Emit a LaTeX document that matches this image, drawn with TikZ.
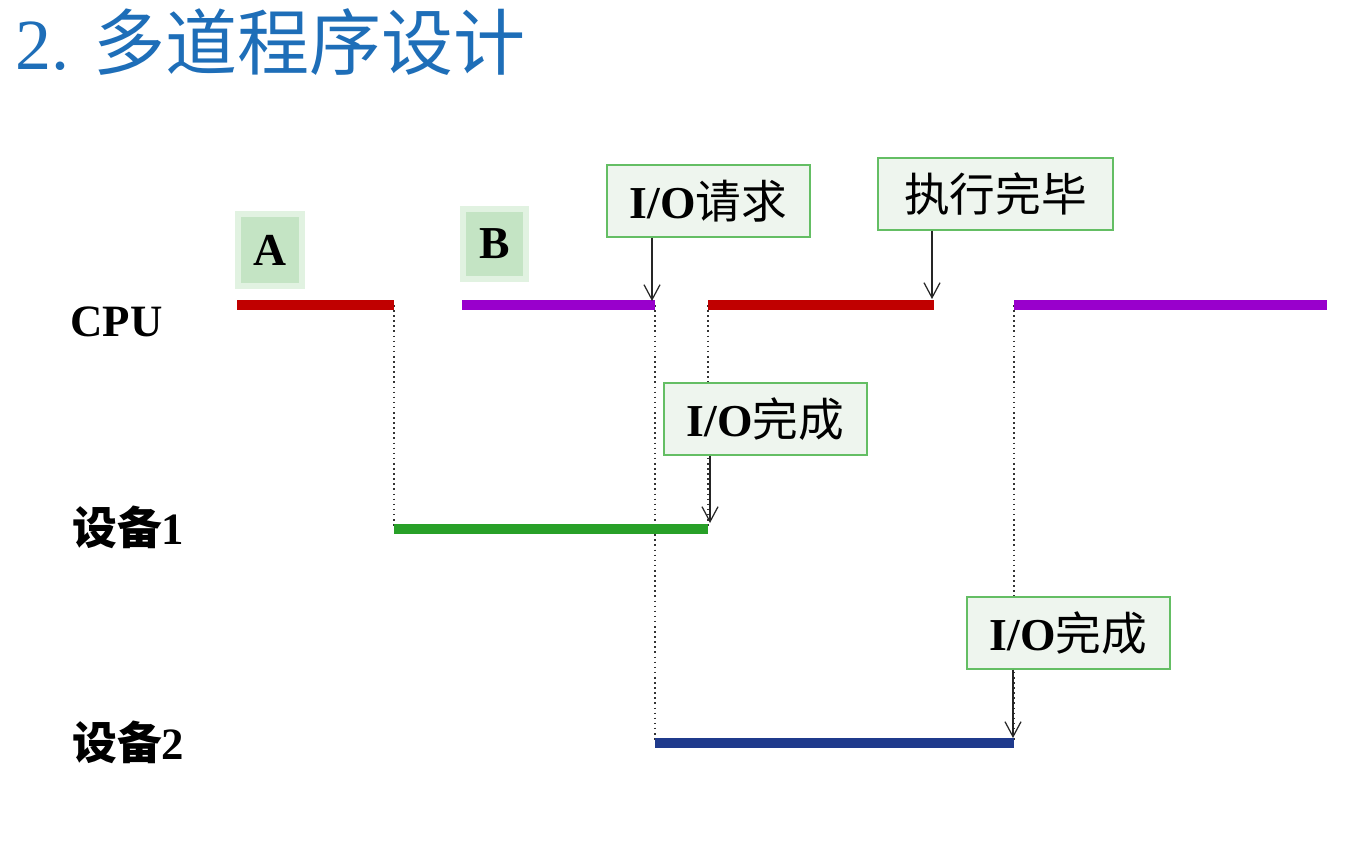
\documentclass[tikz,border=0pt]{standalone}
\usepackage{fontspec}
\setmainfont{Liberation Serif}
\newfontfamily\cjk{Noto Sans CJK SC}
\usetikzlibrary{arrows.meta}
\definecolor{titleblue}{RGB}{30,110,184}
\definecolor{barred}{RGB}{192,0,0}
\definecolor{barpurple}{RGB}{153,0,204}
\definecolor{bargreen}{RGB}{40,160,40}
\definecolor{barblue}{RGB}{31,58,140}
\definecolor{boxfill}{RGB}{238,245,238}
\definecolor{boxdraw}{RGB}{100,190,100}
\definecolor{tagfill}{RGB}{196,228,196}
\definecolor{tagglow}{RGB}{225,242,225}
\begin{document}
\begin{tikzpicture}[x=0.02cm,y=-0.02cm,
  bar/.style={line width=5.6pt},
  guide/.style={draw=black!80,dotted,line width=0.9pt},
  pointer/.style={draw=black!85,line width=0.7pt,-{Straight Barb[length=3mm,width=3.2mm]}},
  callout/.style={draw=boxdraw,fill=boxfill,line width=0.8pt,minimum height=72*0.02cm,inner sep=0pt,font=\fontsize{26}{30}\selectfont},
  tag/.style={fill=tagfill,draw=tagglow,line width=3pt,inner sep=0pt,font=\fontsize{26}{30}\selectfont\bfseries},
  rowlabel/.style={anchor=west,inner sep=0pt,font=\fontsize{25.5}{30}\selectfont\bfseries}]
\useasboundingbox[fill=white] (0,0) rectangle (1352,843);
% title
\node[anchor=west,inner sep=0pt,text=titleblue,font=\fontsize{41}{48}\selectfont] (title) at (15,42) {2.\,\,{\cjk 多道程序设计}};
% row labels
\node[rowlabel] (cpu) at (70,322) {CPU};
\node[rowlabel] (dev1) at (72,527) {{\cjk\bfseries 设备}1};
\node[rowlabel] (dev2) at (72,742) {{\cjk\bfseries 设备}2};
% bar end points
\coordinate (a1s) at (237,305); \coordinate (a1e) at (394,305);
\coordinate (b1s) at (462,305); \coordinate (b1e) at (655,305);
\coordinate (a2s) at (708,305); \coordinate (a2e) at (934,305);
\coordinate (b2s) at (1014,305); \coordinate (b2e) at (1327,305);
\coordinate (d1s) at (394,529); \coordinate (d1e) at (708,529);
\coordinate (d2s) at (655,743); \coordinate (d2e) at (1014,743);
% dotted guides
\draw[guide] (a1e) -- (d1s);
\draw[guide] (b1e) -- (d2s);
\draw[guide] (a2s) -- (d1e);
\draw[guide] (b2s) -- (d2e);
% bars
\draw[bar,barred] (a1s) -- (a1e);
\draw[bar,barpurple] (b1s) -- (b1e);
\draw[bar,barred] (a2s) -- (a2e);
\draw[bar,barpurple] (b2s) -- (b2e);
\draw[bar,bargreen] (d1s) -- (d1e);
\draw[bar,barblue] (d2s) -- (d2e);
% tags
\node[tag,minimum width=64*0.02cm,minimum height=72*0.02cm] (tagA) at (270,250) {A};
\node[tag,minimum width=63*0.02cm,minimum height=70*0.02cm] (tagB) at (494.5,244) {B};
% callouts
\node[callout,minimum width=203*0.02cm] (iorq) at (708.5,201) {\textbf{I/O}{\cjk 请求}};
\node[callout,minimum width=235*0.02cm] (done) at (995.5,194) {\cjk 执行完毕};
\node[callout,minimum width=203*0.02cm] (fin1) at (765.5,419) {\textbf{I/O}{\cjk 完成}};
\node[callout,minimum width=203*0.02cm] (fin2) at (1068.5,633) {\textbf{I/O}{\cjk 完成}};
% pointer targets
\coordinate (t1) at (652,301);
\coordinate (t2) at (932,299);
\coordinate (t3) at (710,523);
\coordinate (t4) at (1013,738);
\draw[pointer] (iorq.south -| t1) -- (t1);
\draw[pointer] (done.south -| t2) -- (t2);
\draw[pointer] (fin1.south -| t3) -- (t3);
\draw[pointer] (fin2.south -| t4) -- (t4);
\end{tikzpicture}
\end{document}
